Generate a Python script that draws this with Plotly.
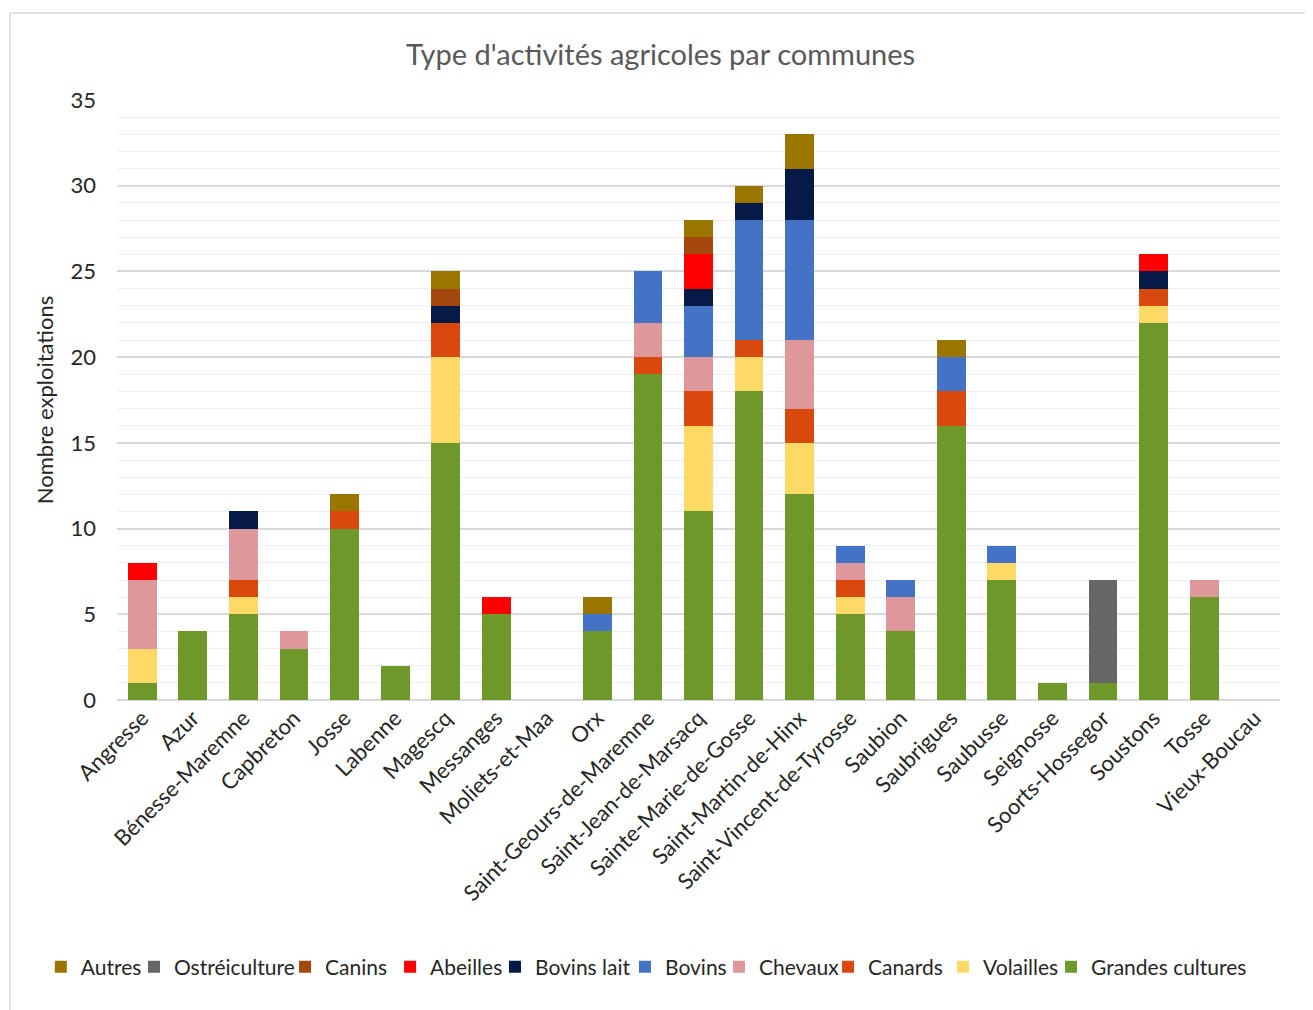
import plotly.graph_objects as go

communes = ["Angresse", "Azur", "Bénesse-Maremne", "Capbreton", "Josse", "Labenne",
            "Magescq", "Messanges", "Moliets-et-Maa", "Orx", "Saint-Geours-de-Maremne",
            "Saint-Jean-de-Marsacq", "Sainte-Marie-de-Gosse", "Saint-Martin-de-Hinx",
            "Saint-Vincent-de-Tyrosse", "Saubion", "Saubrigues", "Saubusse", "Seignosse",
            "Soorts-Hossegor", "Soustons", "Tosse", "Vieux-Boucau"]

grandes_cultures = [1, 4, 5, 3, 10, 2, 15, 5, 0, 4, 19, 11, 18, 12, 5, 4, 16, 7, 1, 1, 22, 6, 0]
volailles        = [2, 0, 1, 0, 0, 0, 5, 0, 0, 0, 0, 5, 2, 3, 1, 0, 0, 1, 0, 0, 1, 0, 0]
canards          = [0, 0, 1, 0, 1, 0, 2, 0, 0, 0, 1, 2, 1, 2, 1, 0, 2, 0, 0, 0, 1, 0, 0]
chevaux          = [4, 0, 3, 1, 0, 0, 0, 0, 0, 0, 2, 2, 0, 4, 1, 2, 0, 0, 0, 0, 0, 1, 0]
bovins           = [0, 0, 0, 0, 0, 0, 0, 0, 0, 1, 3, 3, 7, 7, 1, 1, 2, 1, 0, 0, 0, 0, 0]
bovins_lait      = [0, 0, 1, 0, 0, 0, 1, 0, 0, 0, 0, 1, 1, 3, 0, 0, 0, 0, 0, 0, 1, 0, 0]
abeilles         = [1, 0, 0, 0, 0, 0, 0, 1, 0, 0, 0, 2, 0, 0, 0, 0, 0, 0, 0, 0, 1, 0, 0]
canins           = [0, 0, 0, 0, 0, 0, 1, 0, 0, 0, 0, 1, 0, 0, 0, 0, 0, 0, 0, 0, 0, 0, 0]
ostreiculture    = [0, 0, 0, 0, 0, 0, 0, 0, 0, 0, 0, 0, 0, 0, 0, 0, 0, 0, 0, 6, 0, 0, 0]
autres           = [0, 0, 0, 0, 1, 0, 1, 0, 0, 1, 0, 1, 1, 2, 0, 0, 1, 0, 0, 0, 0, 0, 0]

series = [
    ("Grandes cultures", grandes_cultures, "#6F982B"),
    ("Volailles", volailles, "#FFD966"),
    ("Canards", canards, "#D9480C"),
    ("Chevaux", chevaux, "#DE979A"),
    ("Bovins", bovins, "#4472C4"),
    ("Bovins lait", bovins_lait, "#061A48"),
    ("Abeilles", abeilles, "#FF0000"),
    ("Canins", canins, "#A5480F"),
    ("Ostréiculture", ostreiculture, "#666666"),
    ("Autres", autres, "#9A7600"),
]

# legend entry positions (left-to-right, Autres first) as fraction of the plot width
legend_x = {
    "Autres": -0.0655, "Ostréiculture": 0.0146, "Canins": 0.1445, "Abeilles": 0.2348,
    "Bovins lait": 0.3250, "Bovins": 0.4368, "Chevaux": 0.5176, "Canards": 0.6114,
    "Volailles": 0.7103, "Grandes cultures": 0.8031,
}

FONT = "Lato"
TXT = "#262626"
fig = go.Figure()
layout_legends = {}
for i, (name, vals, col) in enumerate(series):
    key = f"legend{i + 2}"
    fig.add_trace(go.Bar(x=communes, y=vals, name=name, legend=key, showlegend=True,
                         marker=dict(color=col, line=dict(width=0))))
    layout_legends[key] = dict(orientation="h", x=legend_x[name], xanchor="left",
                               y=-0.445, yanchor="middle", bgcolor="rgba(0,0,0,0)",
                               font=dict(family=FONT, size=21, color=TXT),
                               itemwidth=30)

fig.update_layout(
    barmode="stack",
    bargap=0.43,
    showlegend=True,
    width=1313, height=1010,
    margin=dict(l=109, r=41, t=92, b=318),
    paper_bgcolor="white", plot_bgcolor="white",
    font=dict(family=FONT, size=22, color=TXT),
    title=dict(text="Type d'activités agricoles par communes", x=0.497, xanchor="center",
               y=0.9535, yanchor="middle", font=dict(family=FONT, size=29, color="#595959")),
    xaxis=dict(tickangle=-45, showgrid=False, showline=False, ticks="",
               tickfont=dict(family=FONT, size=22, color=TXT)),
    yaxis=dict(range=[0, 35], dtick=5, showgrid=True, gridcolor="#D9D9D9", gridwidth=1.5,
               zeroline=True, zerolinecolor="#D9D9D9", zerolinewidth=1.5,
               minor=dict(dtick=1, showgrid=True, gridcolor="#EEEEEE", gridwidth=1),
               tickfont=dict(family=FONT, size=22, color=TXT), ticklabelstandoff=20,
               title=dict(text="Nombre exploitations", font=dict(family=FONT, size=22, color=TXT),
                          standoff=10)),
    shapes=[
        dict(type="line", xref="paper", yref="paper", x0=-0.092, x1=1.04, y0=1.145, y1=1.145,
             line=dict(color="#D9D9D9", width=1.5), layer="below"),
        dict(type="line", xref="paper", yref="paper", x0=-0.092, x1=-0.092, y0=1.145, y1=-0.55,
             line=dict(color="#D9D9D9", width=1.5), layer="below"),
    ],
    **layout_legends,
)

fig.write_html("out.html")
